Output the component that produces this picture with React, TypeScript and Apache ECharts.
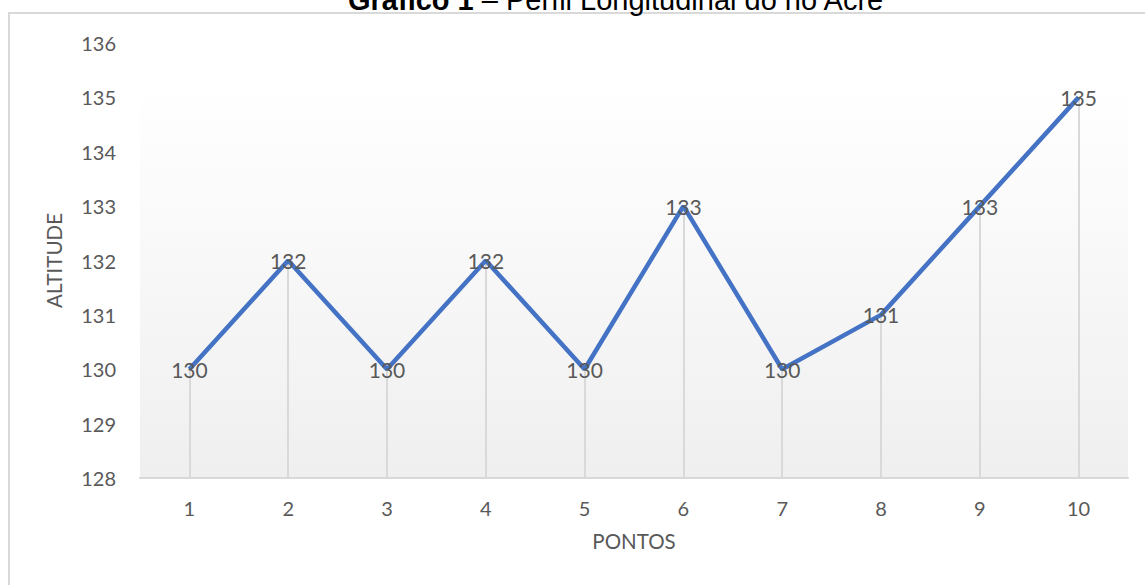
import React, { useEffect, useRef } from "react";
import * as echarts from "echarts";

const pontos = ["1", "2", "3", "4", "5", "6", "7", "8", "9", "10"];
const altitude = [130, 132, 130, 132, 130, 133, 130, 131, 133, 135];
const yMin = 128;
const yMax = 136;
const titleBold = "Gráfico 1";
const titleRest = " – Perfil Longitudinal do rio Acre";
const xName = "PONTOS";
const yName = "ALTITUDE";

const FONT = "Lato, 'Noto Sans', sans-serif";
const TFONT = "'Liberation Sans', Arial, sans-serif";
const GREY = "#595959";

export default function App() {
  const ref = useRef<HTMLDivElement>(null);
  useEffect(() => {
    if (!ref.current) return;
    const chart = echarts.init(ref.current, undefined, { renderer: "svg" });
    chart.setOption({
      animation: false,
      backgroundColor: "#ffffff",
      title: {
        left: 343,
        top: -20,
        text: "{b|" + titleBold + "}{n|" + titleRest + "}",
        textStyle: {
          fontWeight: "normal",
          rich: {
            b: { fontFamily: TFONT, fontWeight: "bold", fontSize: 29, color: "#000" },
            n: { fontFamily: TFONT, fontWeight: "normal", fontSize: 29, color: "#000" },
          },
        },
      },
      graphic: [
        {
          type: "rect",
          shape: { x: 9, y: 13, width: 1160, height: 600 },
          style: { fill: "none", stroke: "#d9d9d9", lineWidth: 2 },
          silent: true,
        },
      ],
      grid: {
        left: 140,
        right: 17,
        top: 43,
        bottom: 107,
        show: true,
        borderWidth: 0,
        backgroundColor: new echarts.graphic.LinearGradient(0, 0, 0, 1, [
          { offset: 0, color: "#ffffff" },
          { offset: 0.1, color: "#ffffff" },
          { offset: 1, color: "#efefef" },
        ]),
      },
      xAxis: {
        type: "category",
        data: pontos,
        boundaryGap: true,
        name: xName,
        nameLocation: "middle",
        nameGap: 52,
        nameTextStyle: { fontFamily: FONT, fontSize: 20.5, color: GREY },
        axisLine: { lineStyle: { color: "#d9d9d9", width: 2 } },
        axisTick: { show: false },
        axisLabel: { fontFamily: FONT, fontSize: 20, color: GREY, margin: 20 },
        splitLine: { show: false },
      },
      yAxis: {
        type: "value",
        min: yMin,
        max: yMax,
        interval: 1,
        name: yName,
        nameLocation: "middle",
        nameGap: 76,
        nameTextStyle: { fontFamily: FONT, fontSize: 20.5, color: GREY },
        axisLine: { show: false },
        axisTick: { show: false },
        axisLabel: { fontFamily: FONT, fontSize: 20, color: GREY, margin: 24 },
        splitLine: { show: false },
      },
      series: [
        {
          type: "line",
          data: altitude,
          symbol: "circle",
          symbolSize: 1,
          showSymbol: true,
          z: 3,
          lineStyle: { color: "#4472c4", width: 4.5 },
          itemStyle: { color: "rgba(0,0,0,0)" },
          label: {
            show: true,
            position: "inside",
            fontFamily: FONT,
            fontSize: 21,
            color: GREY,
          },
          markLine: {
            silent: true,
            symbol: ["none", "none"],
            label: { show: false },
            lineStyle: { color: "#d9d9d9", width: 2, type: "solid" },
            z: 1,
            data: altitude.map((v, i) => [
              { coord: [i, v] },
              { coord: [i, yMin] },
            ]),
          },
        },
      ],
    });
    return () => chart.dispose();
  }, []);
  return (
    <div
      ref={ref}
      style={{ position: "fixed", left: 0, top: 0, width: 1145, height: 585 }}
    />
  );
}
